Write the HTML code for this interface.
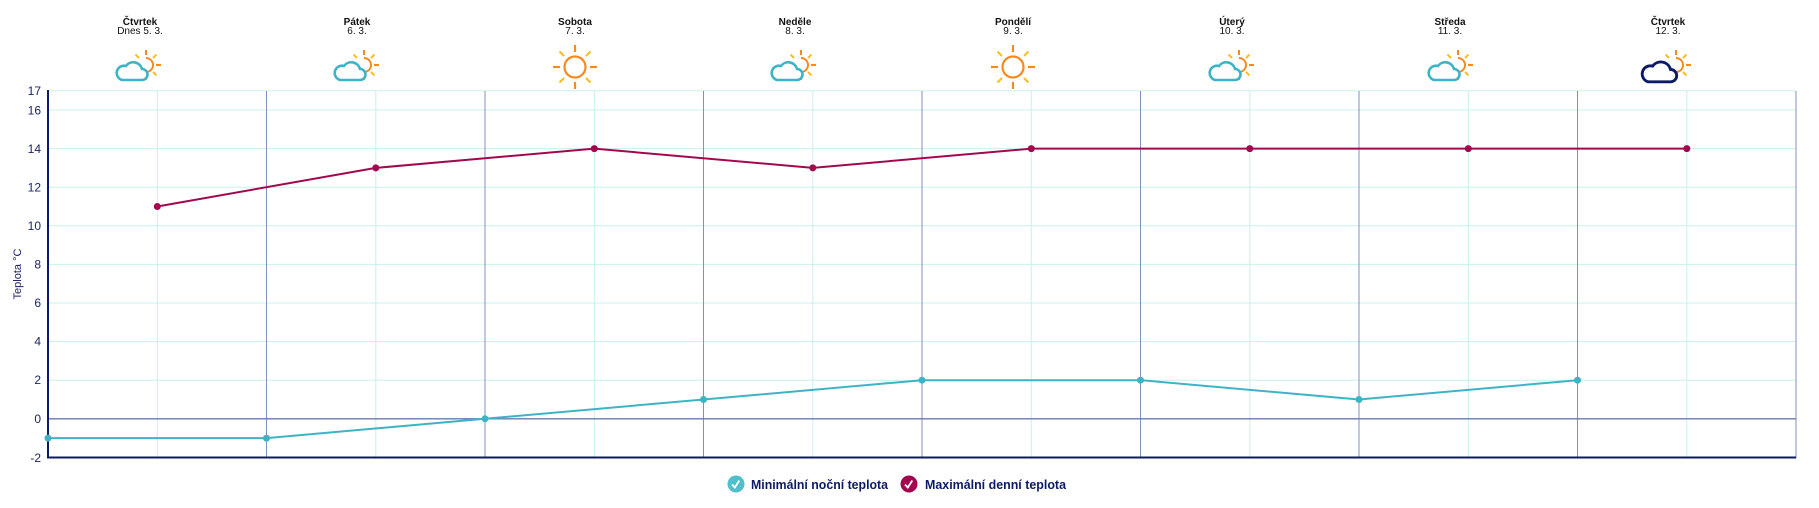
<!DOCTYPE html>
<html><head><meta charset="utf-8"><style>
html,body{margin:0;padding:0;background:#fff;}
svg{display:block;}
</style></head><body>
<svg width="1819" height="508" viewBox="0 0 1819 508" xmlns="http://www.w3.org/2000/svg" font-family="Liberation Sans, sans-serif">
<defs>
<g id="pc">
  <path d="M0,-7 A7,7 0 1 1 0,7" fill="none" stroke="#f58a1f" stroke-width="2"/>
  <line x1="0" y1="-10" x2="0" y2="-15" stroke="#f58a1f" stroke-width="2"/>
  <line x1="0" y1="10" x2="0" y2="15" stroke="#f58a1f" stroke-width="2"/>
  <line x1="10" y1="0" x2="15" y2="0" stroke="#f58a1f" stroke-width="2"/>
  <line x1="7" y1="-7" x2="10.5" y2="-10.5" stroke="#fbbf24" stroke-width="2"/>
  <line x1="7" y1="7" x2="10.5" y2="10.5" stroke="#fbbf24" stroke-width="2"/>
  <line x1="-7" y1="-7" x2="-10.5" y2="-10.5" stroke="#fbbf24" stroke-width="2"/>
</g>
<path id="cloud" d="M-24,15 H-4 A5.5,5.5 0 0 0 -4,4 A9,9 0 0 0 -20,1 A7,7 0 0 0 -24,15 Z" fill="#fff" stroke-width="2.6"/>
<g id="sun">
  <circle cx="0" cy="0" r="10.5" fill="none" stroke="#f58a1f" stroke-width="2.2"/>
  <g stroke-width="2.2">
  <line x1="0" y1="-15" x2="0" y2="-22" stroke="#f58a1f"/>
  <line x1="0" y1="15" x2="0" y2="22" stroke="#f58a1f"/>
  <line x1="15" y1="0" x2="22" y2="0" stroke="#f58a1f"/>
  <line x1="-15" y1="0" x2="-22" y2="0" stroke="#f58a1f"/>
  <line x1="11" y1="-11" x2="15.5" y2="-15.5" stroke="#fbbf24"/>
  <line x1="11" y1="11" x2="15.5" y2="15.5" stroke="#fbbf24"/>
  <line x1="-11" y1="-11" x2="-15.5" y2="-15.5" stroke="#fbbf24"/>
  <line x1="-11" y1="11" x2="-15.5" y2="15.5" stroke="#fbbf24"/>
  </g>
</g>
</defs>

<g stroke="#c8f0ee" stroke-width="1">
<line x1="48" x2="1796" y1="90.7" y2="90.7"/>
<line x1="48" x2="1796" y1="110" y2="110"/>
<line x1="48" x2="1796" y1="148.6" y2="148.6"/>
<line x1="48" x2="1796" y1="187.2" y2="187.2"/>
<line x1="48" x2="1796" y1="225.8" y2="225.8"/>
<line x1="48" x2="1796" y1="264.4" y2="264.4"/>
<line x1="48" x2="1796" y1="303" y2="303"/>
<line x1="48" x2="1796" y1="341.6" y2="341.6"/>
<line x1="48" x2="1796" y1="380.2" y2="380.2"/>
</g>
<g stroke="#c8f0ee" stroke-width="1">
<line x1="157.3" x2="157.3" y1="91" y2="458"/>
<line x1="375.8" x2="375.8" y1="91" y2="458"/>
<line x1="594.3" x2="594.3" y1="91" y2="458"/>
<line x1="812.8" x2="812.8" y1="91" y2="458"/>
<line x1="1031.3" x2="1031.3" y1="91" y2="458"/>
<line x1="1249.8" x2="1249.8" y1="91" y2="458"/>
<line x1="1468.3" x2="1468.3" y1="91" y2="458"/>
<line x1="1686.8" x2="1686.8" y1="91" y2="458"/>
</g>
<g stroke="#8090c0" stroke-width="1">
<line x1="266.5" x2="266.5" y1="91" y2="458"/>
<line x1="485" x2="485" y1="91" y2="458"/>
<line x1="703.5" x2="703.5" y1="91" y2="458"/>
<line x1="922" x2="922" y1="91" y2="458"/>
<line x1="1140.5" x2="1140.5" y1="91" y2="458"/>
<line x1="1359" x2="1359" y1="91" y2="458"/>
<line x1="1577.5" x2="1577.5" y1="91" y2="458"/>
<line x1="1796" x2="1796" y1="91" y2="458"/>
</g>
<line x1="48" x2="1796" y1="418.8" y2="418.8" stroke="#6a78b0" stroke-width="1.3"/>
<line x1="48" x2="48" y1="90" y2="458" stroke="#0d1a66" stroke-width="2"/>
<line x1="47" x2="1796" y1="457.5" y2="457.5" stroke="#0d1a66" stroke-width="2"/>

<g fill="#1a2466" font-size="12" text-anchor="end">
<text x="41" y="95">17</text>
<text x="41" y="114.5">16</text>
<text x="41" y="153">14</text>
<text x="41" y="191.5">12</text>
<text x="41" y="230">10</text>
<text x="41" y="268.5">8</text>
<text x="41" y="307">6</text>
<text x="41" y="345.5">4</text>
<text x="41" y="384">2</text>
<text x="41" y="423">0</text>
<text x="41" y="462">-2</text>
</g>
<text transform="translate(21,274) rotate(-90)" fill="#1a2466" font-size="11" text-anchor="middle">Teplota °C</text>

<polyline fill="none" stroke="#3db4c6" stroke-width="2" points="48,438.1 266.5,438.1 485,418.8 703.5,399.5 922,380.2 1140.5,380.2 1359,399.5 1577.5,380.2"/>
<g fill="#3db4c6">
<circle cx="48" cy="438.1" r="3.5"/><circle cx="266.5" cy="438.1" r="3.5"/><circle cx="485" cy="418.8" r="3.5"/><circle cx="703.5" cy="399.5" r="3.5"/><circle cx="922" cy="380.2" r="3.5"/><circle cx="1140.5" cy="380.2" r="3.5"/><circle cx="1359" cy="399.5" r="3.5"/><circle cx="1577.5" cy="380.2" r="3.5"/>
</g>
<polyline fill="none" stroke="#a3084f" stroke-width="2" points="157.3,206.5 375.8,167.9 594.3,148.6 812.8,167.9 1031.3,148.6 1249.8,148.6 1468.3,148.6 1686.8,148.6"/>
<g fill="#a3084f">
<circle cx="157.3" cy="206.5" r="3.5"/><circle cx="375.8" cy="167.9" r="3.5"/><circle cx="594.3" cy="148.6" r="3.5"/><circle cx="812.8" cy="167.9" r="3.5"/><circle cx="1031.3" cy="148.6" r="3.5"/><circle cx="1249.8" cy="148.6" r="3.5"/><circle cx="1468.3" cy="148.6" r="3.5"/><circle cx="1686.8" cy="148.6" r="3.5"/>
</g>

<g font-size="10" fill="#111" text-anchor="middle">
<text x="140" y="25" font-weight="bold">Čtvrtek</text><text x="140" y="34">Dnes 5. 3.</text>
<text x="357" y="25" font-weight="bold">Pátek</text><text x="357" y="34">6. 3.</text>
<text x="575" y="25" font-weight="bold">Sobota</text><text x="575" y="34">7. 3.</text>
<text x="795" y="25" font-weight="bold">Neděle</text><text x="795" y="34">8. 3.</text>
<text x="1013" y="25" font-weight="bold">Pondělí</text><text x="1013" y="34">9. 3.</text>
<text x="1232" y="25" font-weight="bold">Úterý</text><text x="1232" y="34">10. 3.</text>
<text x="1450" y="25" font-weight="bold">Středa</text><text x="1450" y="34">11. 3.</text>
<text x="1668" y="25" font-weight="bold">Čtvrtek</text><text x="1668" y="34">12. 3.</text>
</g>
<g transform="translate(146,65)"><use href="#pc"/><use href="#cloud" stroke="#3db4c6"/></g>
<g transform="translate(364,65)"><use href="#pc"/><use href="#cloud" stroke="#3db4c6"/></g>
<g transform="translate(575,67)"><use href="#sun"/></g>
<g transform="translate(801,65)"><use href="#pc"/><use href="#cloud" stroke="#3db4c6"/></g>
<g transform="translate(1013,67)"><use href="#sun"/></g>
<g transform="translate(1239,65)"><use href="#pc"/><use href="#cloud" stroke="#3db4c6"/></g>
<g transform="translate(1458,65)"><use href="#pc"/><use href="#cloud" stroke="#3db4c6"/></g>
<g transform="translate(1676,65)"><use href="#pc"/><use href="#cloud" stroke="#0d1a66" transform="translate(-1,0) scale(1.12)"/></g>

<circle cx="736" cy="484" r="8.5" fill="#4fbfcc"/>
<path d="M732,484.5 l2.8,3 l4.5,-7" fill="none" stroke="#fff" stroke-width="1.8"/>
<text x="751" y="489" font-size="13" font-weight="bold" fill="#0d1a66" textLength="137" lengthAdjust="spacingAndGlyphs">Minimální noční teplota</text>
<circle cx="909" cy="484" r="8.5" fill="#a3084f"/>
<path d="M905,484.5 l2.8,3 l4.5,-7" fill="none" stroke="#fff" stroke-width="1.8"/>
<text x="925" y="489" font-size="13" font-weight="bold" fill="#0d1a66" textLength="141" lengthAdjust="spacingAndGlyphs">Maximální denní teplota</text>
</svg>
</body></html>
